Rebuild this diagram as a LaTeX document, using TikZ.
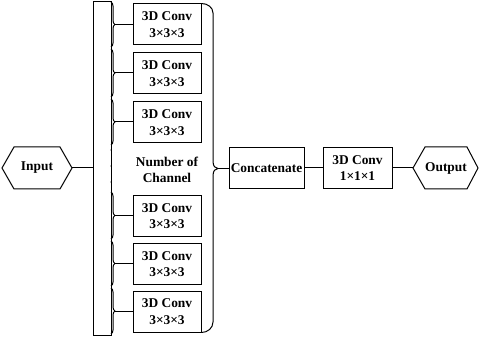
\documentclass[tikz,border=0pt]{standalone}
\usepackage{fontspec}
\setmainfont{Liberation Serif}
\usetikzlibrary{decorations.pathreplacing}
\begin{document}
\begin{tikzpicture}[x=1pt,y=-1pt, line width=1pt,
  txt/.style={font=\bfseries\fontsize{13.4}{16.5}\selectfont, align=center, inner sep=0pt},
  conv/.style={txt, draw, minimum width=68pt, minimum height=41pt},
  sbrace/.style={decorate, decoration={brace, amplitude=4pt}},
  dotmark/.style={fill, circle, inner sep=0pt, minimum size=1.4pt}]
\useasboundingbox (0,0) rectangle (479,339);
% input
\coordinate (inL) at (2,168);
\coordinate (inR) at (72,168);
\draw (inL) -- (14,147) -- (60,147) -- (inR) -- (60,189) -- (14,189) -- cycle;
\node[txt] (in) at (37,168) {Input};
% tall bar
\node[draw, minimum width=18pt, minimum height=333pt, inner sep=0pt] (bar) at (102,168.5) {};
\draw (inR) -- (inR -| bar.west);
% conv boxes
\node[conv] (c1) at (167,24.5) {3D Conv\\3×3×3};
\node[conv] (c2) at (167,73.5) {3D Conv\\3×3×3};
\node[conv] (c3) at (167,122.5) {3D Conv\\3×3×3};
\node[conv] (c4) at (167,216) {3D Conv\\3×3×3};
\node[conv] (c5) at (167,264) {3D Conv\\3×3×3};
\node[conv] (c6) at (167,311.5) {3D Conv\\3×3×3};
% small braces
\draw[sbrace] (111,2) -- (111,47);
\draw[sbrace] (111,49) -- (111,97);
\draw[sbrace] (111,99) -- (111,145);
\draw[sbrace] (111,192) -- (111,239);
\draw[sbrace] (111,241) -- (111,286);
\draw[sbrace] (111,288) -- (111,334);
\coordinate (t1) at (115,24.5);
\coordinate (t2) at (115,73);
\coordinate (t3) at (115,122);
\coordinate (t4) at (115,215.5);
\coordinate (t5) at (115,263.5);
\coordinate (t6) at (115,311);
\foreach \i in {1,...,6} \draw (t\i) -- (t\i -| c\i.west);
% dots
\node[dotmark] (d1) at (111,150) {};
\node[dotmark] (d2) at (111,166) {};
\node[dotmark] (d3) at (111,182) {};
\node[txt] (noc) at (167,170) {Number of\\Channel};
% big brace
\coordinate (bt) at (218,168.5);
\draw (c1.north east) to[out=0,in=90] (213,13) -- (213,161)
  .. controls (213,166) and (215,168.5) .. (bt)
  .. controls (215,168.5) and (213,171) .. (213,176) -- (213,322)
  to[out=-90,in=0] (c6.south east);
% right chain
\node[conv, minimum width=75pt] (cat) at (266.5,168) {Concatenate};
\node[conv, minimum width=69pt] (c7) at (357.5,168) {3D Conv\\1×1×1};
\coordinate (outL) at (413,168);
\coordinate (outR) at (478,168);
\draw (outL) -- (425,147) -- (467,147) -- (outR) -- (467,189) -- (425,189) -- cycle;
\node[txt] (out) at (446,168) {Output};
\draw (bt) -- (bt -| cat.west);
\draw (cat) -- (c7);
\draw (c7.east) -- (outL);
\end{tikzpicture}
\end{document}
